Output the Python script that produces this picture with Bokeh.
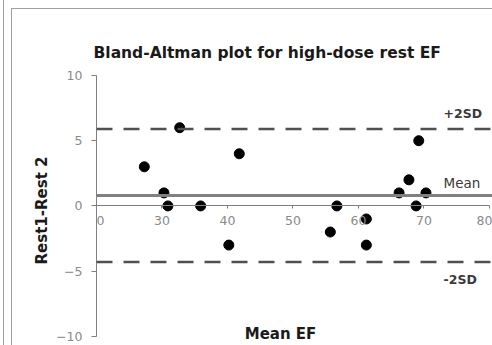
from bokeh.plotting import figure
from bokeh.models import Range1d, Span, Label, FixedTicker, ColumnDataSource
from bokeh.embed import file_html
from bokeh.resources import INLINE

# ---- data ----
mean_ef = [27.3, 30.3, 30.9, 35.9, 32.7, 41.8, 40.2, 56.7, 55.7, 61.2, 61.2, 66.2, 67.7, 68.8, 69.2, 70.3]
rest_diff = [3, 1, 0, 0, 6, 4, -3, 0, -2, -1, -3, 1, 2, 0, 5, 1]
mean_diff = 0.8
upper_sd = 5.9
lower_sd = -4.3
x_ticks = [20, 30, 40, 50, 60, 70, 80]
y_ticks = [-10, -5, 0, 5, 10]
title_text = "Bland-Altman plot for high-dose rest EF"
x_label = "Mean EF"
y_label = "Rest1-Rest 2"

FONT = "DejaVu Sans"
AX = "#808080"
BORDER = "#a0a0a0"

bg = (f"linear-gradient({BORDER},{BORDER}) 3px 0px / 1px 100% no-repeat, "
      f"linear-gradient({BORDER},{BORDER}) 11px 8px / 1px 100% no-repeat, "
      f"linear-gradient({BORDER},{BORDER}) 11px 8px / 100% 1px no-repeat, "
      f"linear-gradient(white,white)")

p = figure(width=492, height=345, output_backend="svg", toolbar_location=None,
           x_range=Range1d(20, 80.46), y_range=Range1d(-10.7, 10),
           min_border_left=96, min_border_right=0, min_border_top=75, min_border_bottom=0,
           styles={"background": bg})
p.outline_line_color = None
p.grid.grid_line_color = None
p.background_fill_color = "white"
p.border_fill_color = None

p.title.text = title_text
p.title.text_font = FONT
p.title.text_font_style = "bold"
p.title.text_font_size = "15.5px"
p.title.text_color = "#1a1a1a"
p.title.align = "left"
p.title.offset = -3
p.title.standoff = 28

# x axis crossing at y = 0
p.xaxis.fixed_location = 0
p.xaxis.bounds = (20, 80)
p.xaxis.ticker = FixedTicker(ticks=x_ticks)
p.xaxis.axis_line_color = AX
p.xaxis.major_tick_line_color = AX
p.xaxis.major_tick_out = 3
p.xaxis.major_tick_in = 0
p.xaxis.minor_tick_line_color = None
p.xaxis.major_label_standoff = 7
p.xaxis.major_label_text_color = "#8a8a8a"
p.xaxis.major_label_text_font = FONT
p.xaxis.major_label_text_font_size = "12.5px"

p.yaxis.bounds = (-10, 10)
p.yaxis.ticker = FixedTicker(ticks=y_ticks)
p.yaxis.axis_line_color = AX
p.yaxis.major_tick_line_color = AX
p.yaxis.major_tick_out = 5
p.yaxis.major_tick_in = 0
p.yaxis.minor_tick_line_color = None
p.yaxis.major_label_standoff = 9
p.yaxis.major_label_text_color = "#8a8a8a"
p.yaxis.major_label_text_font = FONT
p.yaxis.major_label_text_font_size = "12.5px"
p.yaxis.axis_label = y_label
p.yaxis.axis_label_text_font = FONT
p.yaxis.axis_label_text_font_style = "bold"
p.yaxis.axis_label_text_font_size = "15px"
p.yaxis.axis_label_text_color = "#1a1a1a"
p.yaxis.axis_label_standoff = 2

# reference lines
p.add_layout(Span(location=mean_diff, dimension="width", line_color="#808080", line_width=3))
p.add_layout(Span(location=upper_sd, dimension="width", line_color="#505050", line_width=2.5, line_dash="16 11"))
p.add_layout(Span(location=lower_sd, dimension="width", line_color="#505050", line_width=2.5, line_dash="16 11"))

src = ColumnDataSource(dict(x=mean_ef, y=rest_diff))
p.scatter("x", "y", source=src, size=10, color="black")

p.add_layout(Label(x=72.98, y=7.08, text="+2SD", text_font=FONT, text_font_style="bold",
                   text_font_size="12.5px", text_color="#3a3a3a", text_baseline="middle"))
p.add_layout(Label(x=72.98, y=1.74, text="Mean", text_font=FONT,
                   text_font_size="13.5px", text_color="#3a3a3a", text_baseline="middle"))
p.add_layout(Label(x=72.98, y=-5.63, text="-2SD", text_font=FONT, text_font_style="bold",
                   text_font_size="12.5px", text_color="#3a3a3a", text_baseline="middle"))
p.add_layout(Label(x=48.1, y=-9.85, text=x_label, text_font=FONT, text_font_style="bold",
                   text_font_size="15px", text_color="#1a1a1a", text_baseline="middle", text_align="center"))

open("out.html", "w").write(file_html(p, INLINE))
